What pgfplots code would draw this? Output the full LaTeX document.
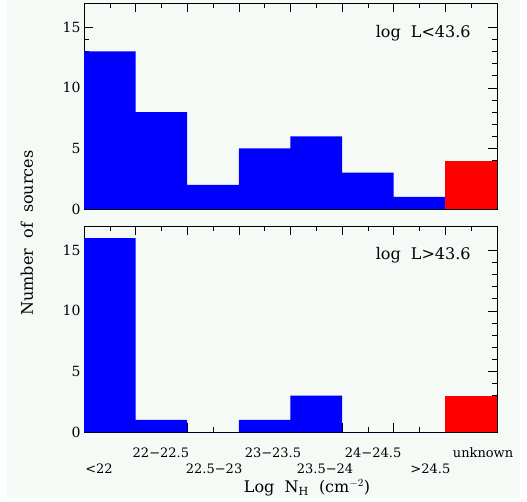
\documentclass[border=0pt]{standalone}
\usepackage{fontspec}
\setmainfont{DejaVu Serif}
\usepackage{pgfplots}
\pgfplotsset{compat=1.18}
\definecolor{bg}{RGB}{246,250,246}

\pgfplotsset{
  panel/.style={
    width=413pt, height=206pt, scale only axis,
    xmin=0, xmax=8, ymin=0, ymax=17,
    xtick={0,...,8}, xticklabels={}, minor x tick num=1,
    ytick={0,5,10,15}, minor y tick num=4,
    major tick length=9pt, minor tick length=5pt,
    tick style={black, line width=0.6pt},
    axis line style={line width=0.8pt},
    yticklabel style={font=\fontsize{14}{14}\selectfont},
    /pgf/number format/assume math mode=true,
    clip=false,
  },
  bars/.style={ybar interval, fill=#1, draw=none},
}

\begin{document}
\begin{tikzpicture}
\fill[bg] (7pt,0) rectangle (520pt,-497pt);
\path[use as bounding box] (0,0) rectangle (527pt,-501pt);

% top panel: log L < 43.6
\begin{axis}[panel, at={(84pt,-209pt)}, anchor=south west]
  \addplot[bars=blue] coordinates {(0,13)(1,8)(2,2)(3,5)(4,6)(5,3)(6,1)(7,1)};
  \addplot[bars=red] coordinates {(7,4)(8,4)};
  \node[font=\fontsize{16}{16}\selectfont] at (axis cs:6.57,14.5) {log\ \ L<43.6};
\end{axis}

% bottom panel: log L > 43.6
\begin{axis}[panel, at={(84pt,-432pt)}, anchor=south west]
  \addplot[bars=blue] coordinates {(0,16)(1,1)(2,0)(3,1)(4,3)(5,0)(6,0)(7,0)};
  \addplot[bars=red] coordinates {(7,3)(8,3)};
  \node[font=\fontsize{16}{16}\selectfont] at (axis cs:6.57,14.6) {log\ \ L>43.6};
  \begin{scope}[every node/.style={font=\fontsize{13}{13}\selectfont}]
    \node[yshift=-21pt] at (axis cs:1.49,0) {22−22.5};
    \node[yshift=-21pt] at (axis cs:3.66,0) {23−23.5};
    \node[yshift=-21pt] at (axis cs:5.60,0) {24−24.5};
    \node[yshift=-21pt] at (axis cs:7.73,0) {unknown};
    \node[yshift=-37pt] at (axis cs:0.29,0) {<22};
    \node[yshift=-37pt] at (axis cs:2.52,0) {22.5−23};
    \node[yshift=-37pt] at (axis cs:4.67,0) {23.5−24};
    \node[yshift=-37pt] at (axis cs:6.71,0) {>24.5};
  \end{scope}
\end{axis}

\node[font=\fontsize{16}{16}\selectfont] at (307pt,-488pt) {Log\ \ N$_\mathrm{H}$\ \ (cm$^{-2}$)};
\node[font=\fontsize{16}{16}\selectfont, rotate=90] at (27pt,-233pt) {Number\ \ of\ \ sources};
\end{tikzpicture}
\end{document}
